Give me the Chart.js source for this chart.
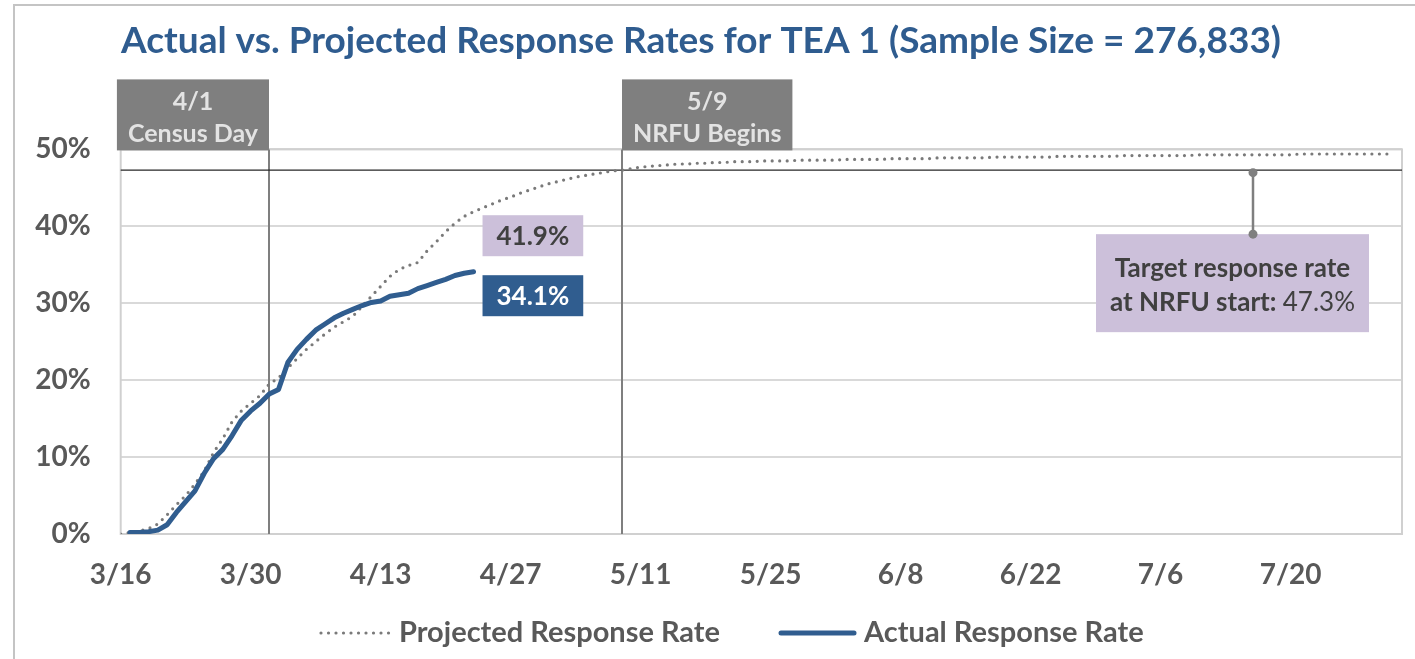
<!DOCTYPE html>
<html><head><meta charset="utf-8">
<script src="https://cdn.jsdelivr.net/npm/chart.js@4/dist/chart.umd.min.js"></script>
<style>
html,body{margin:0;padding:0;background:#fff;}
canvas{display:block;}
</style></head><body>
<canvas id="c" width="1415" height="659"></canvas>
<script>
// ---- data (day 0 = 3/16) ----
const tickLabels = ['3/16','3/30','4/13','4/27','5/11','5/25','6/8','6/22','7/6','7/20'];
const projected = [
 0.0, 0.2, 0.4, 0.7, 1.3, 2.5, 3.8, 5.0, 6.5, 8.2,
 10.6, 12.4, 14.6, 16.0, 17.0, 18.0, 19.5, 20.3, 21.6, 22.8,
 24.0, 25.0, 26.0, 26.9, 27.6, 28.3, 29.6, 30.9, 32.2, 33.5,
 34.4, 34.9, 35.3, 36.8, 38.0, 39.3, 40.4, 41.3, 41.9, 42.4,
 42.9, 43.4, 43.8, 44.3, 44.7, 45.1, 45.5, 45.8, 46.1, 46.4,
 46.6, 46.8, 47.0, 47.2, 47.3, 47.5, 47.7, 47.8, 47.9, 48.0,
 48.1, 48.1, 48.2, 48.2, 48.3, 48.3, 48.4, 48.4, 48.4, 48.5,
 48.5, 48.5, 48.5, 48.6, 48.6, 48.6, 48.6, 48.6, 48.7, 48.7,
 48.7, 48.7, 48.7, 48.8, 48.8, 48.8, 48.8, 48.8, 48.9, 48.9,
 48.9, 48.9, 48.9, 48.9, 49.0, 49.0, 49.0, 49.0, 49.0, 49.0,
 49.0, 49.1, 49.1, 49.1, 49.1, 49.1, 49.1, 49.1, 49.2, 49.2,
 49.2, 49.2, 49.2, 49.2, 49.2, 49.2, 49.3, 49.3, 49.3, 49.3,
 49.3, 49.3, 49.3, 49.3, 49.3, 49.3, 49.3, 49.4, 49.4, 49.4,
 49.4, 49.4, 49.4, 49.4, 49.4, 49.4, 49.4, 49.4
];
const actualStartDay = 1;
const actual = [
 0.2, 0.2, 0.3, 0.5, 1.2, 2.8, 4.2, 5.6, 7.9, 9.8,
 11.0, 12.8, 14.8, 16.0, 17.0, 18.2, 18.8, 22.3, 24.0, 25.3,
 26.5, 27.3, 28.1, 28.7, 29.2, 29.7, 30.1, 30.3, 30.9, 31.1,
 31.3, 31.9, 32.3, 32.7, 33.1, 33.6, 33.9, 34.1
];
const targetRate = 47.3;
const eventDays = [16, 54];
const eventLabels = [['4/1','Census Day'], ['5/9','NRFU Begins']];
const calloutDay = 122;
const seriesNames = ['Projected Response Rate', 'Actual Response Rate'];
const titleText = 'Actual vs. Projected Response Rates for TEA 1 (Sample Size = 276,833)';

const FONT = 'Lato, "Open Sans", sans-serif';
const BLUE = '#305D8F', GRAY = '#7F7F7F', PURPLE = '#CCC0DA', AXIS = '#595959', DARK = '#404040';

const overlay = {
  id: 'overlay',
  beforeDatasetsDraw(chart) {
    const {ctx, chartArea: a, scales: {x, y}} = chart;
    ctx.save();
    ctx.strokeStyle = '#D0D0D0'; ctx.lineWidth = 2;
    ctx.strokeRect(a.left, a.top, a.right - a.left, a.bottom - a.top);
    ctx.strokeStyle = GRAY; ctx.lineWidth = 2;
    eventDays.forEach(d => {
      const px = Math.round(x.getPixelForValue(d));
      ctx.beginPath(); ctx.moveTo(px, a.top); ctx.lineTo(px, a.bottom); ctx.stroke();
    });
    const ty = y.getPixelForValue(targetRate);
    ctx.strokeStyle = '#262626'; ctx.lineWidth = 1.3;
    ctx.beginPath(); ctx.moveTo(a.left, ty); ctx.lineTo(a.right, ty); ctx.stroke();
    ctx.restore();
  },
  afterDatasetsDraw(chart) {
    const {ctx, chartArea: a, scales: {x, y}} = chart;
    ctx.save();
    ctx.textBaseline = 'middle'; ctx.textAlign = 'center';
    ctx.font = 'bold 25px ' + FONT;
    eventDays.forEach((d, i) => {
      const px = Math.round(x.getPixelForValue(d));
      const w = Math.max(...eventLabels[i].map(t => ctx.measureText(t).width)) + 22;
      const left = i === 0 ? px - w : px;
      const top = a.top - 70;
      ctx.fillStyle = GRAY;
      ctx.fillRect(left, top, w, 71);
      ctx.fillStyle = '#E3E3E3';
      ctx.fillText(eventLabels[i][0], left + w / 2, top + 23);
      ctx.fillText(eventLabels[i][1], left + w / 2, top + 55);
    });
    const lastDay = actualStartDay + actual.length - 1;
    const lx = x.getPixelForValue(lastDay);
    const items = [
      {v: projected[lastDay], fill: PURPLE, color: DARK},
      {v: actual[actual.length - 1], fill: BLUE, color: '#FFFFFF'}
    ];
    ctx.font = 'bold 26px ' + FONT;
    items.forEach(it => {
      const py = y.getPixelForValue(it.v);
      const txt = it.v.toFixed(1) + '%';
      const w = ctx.measureText(txt).width + 28;
      const h = 41, left = lx + 9, cy = py + 24;
      ctx.fillStyle = it.fill; ctx.fillRect(left, cy - h / 2, w, h);
      ctx.fillStyle = it.color; ctx.fillText(txt, left + w / 2, cy + 1);
    });
    const cx = Math.round(x.getPixelForValue(calloutDay));
    const ty = y.getPixelForValue(targetRate);
    const y1 = ty + 2.5, y2 = ty + 64;
    const l1 = 'Target response rate', l2a = 'at NRFU start: ', l2b = targetRate.toFixed(1) + '%';
    ctx.font = 'bold 26px ' + FONT;
    const w1 = ctx.measureText(l1).width, w2a = ctx.measureText(l2a).width;
    ctx.font = '26px ' + FONT;
    const w2b = ctx.measureText(l2b).width;
    const bw = Math.max(w1, w2a + w2b) + 28, bh = 98;
    const bl = cx - 157;
    ctx.fillStyle = PURPLE; ctx.fillRect(bl, y2, bw, bh);
    ctx.strokeStyle = GRAY; ctx.lineWidth = 2.5;
    ctx.beginPath(); ctx.moveTo(cx, y1); ctx.lineTo(cx, y2); ctx.stroke();
    ctx.fillStyle = GRAY;
    [y1, y2].forEach(yy => { ctx.beginPath(); ctx.arc(cx, yy, 4.5, 0, Math.PI * 2); ctx.fill(); });
    ctx.fillStyle = DARK;
    ctx.font = 'bold 26px ' + FONT;
    ctx.fillText(l1, bl + bw / 2, y2 + 34);
    ctx.textAlign = 'left';
    const sx = bl + bw / 2 - (w2a + w2b) / 2;
    ctx.fillText(l2a, sx, y2 + 68);
    ctx.font = '26px ' + FONT;
    ctx.fillText(l2b, sx + w2a, y2 + 68);
    ctx.restore();
  },
  afterDraw(chart) {
    const {ctx} = chart;
    const ds = chart.data.datasets;
    ctx.save();
    const ly = 633;
    ctx.font = 'bold 29px ' + FONT;
    ctx.textBaseline = 'middle'; ctx.textAlign = 'left';
    let xx = 319;
    ds.forEach((d, i) => {
      const sw = i === 0 ? 70 : 75;
      ctx.strokeStyle = d.borderColor; ctx.lineWidth = d.borderWidth;
      ctx.lineCap = 'round';
      ctx.setLineDash(d.borderDash || []);
      ctx.beginPath(); ctx.moveTo(xx + 2, ly); ctx.lineTo(xx + sw, ly); ctx.stroke();
      ctx.setLineDash([]);
      xx += sw + 10;
      ctx.fillStyle = AXIS;
      ctx.fillText(d.label, xx, ly);
      xx += ctx.measureText(d.label).width + 59;
    });
    ctx.strokeStyle = '#C4C4C4'; ctx.lineWidth = 2;
    ctx.beginPath(); ctx.moveTo(14, 659); ctx.lineTo(14, 5); ctx.lineTo(1415, 5); ctx.stroke();
    ctx.restore();
  }
};

new Chart(document.getElementById('c'), {
  type: 'line',
  data: {
    datasets: [
      {label: seriesNames[0], data: projected.map((v, i) => ({x: i, y: v})),
       borderColor: '#7A7A7A', borderWidth: 3.2, borderDash: [0, 7.5], borderCapStyle: 'round',
       pointRadius: 0, tension: 0, order: 2},
      {label: seriesNames[1], data: actual.map((v, i) => ({x: i + actualStartDay, y: v})),
       borderColor: BLUE, borderWidth: 5, borderCapStyle: 'round', borderJoinStyle: 'round',
       pointRadius: 0, tension: 0, order: 1}
    ]
  },
  options: {
    responsive: false, animation: false,
    layout: {padding: {left: 0, right: 13, top: 0, bottom: 65}},
    scales: {
      x: {type: 'linear', min: 0, max: 138,
          afterBuildTicks: s => { s.ticks = tickLabels.map((_, i) => ({value: i * 14})); },
          ticks: {callback: v => tickLabels[Math.round(v / 14)], font: {family: FONT, weight: 'bold', size: 28},
                  color: AXIS, padding: 24, maxRotation: 0, autoSkip: false},
          grid: {display: false, drawTicks: false}, border: {display: false},
          afterFit: s => { s.height = 60; }},
      y: {min: 0, max: 50,
          ticks: {stepSize: 10, callback: v => v + '%', font: {family: FONT, weight: 'bold', size: 28},
                  color: AXIS, padding: 30},
          grid: {color: '#D9D9D9', lineWidth: 2, drawTicks: false}, border: {display: false},
          afterFit: s => { s.width = 120.7; }}
    },
    plugins: {
      legend: {display: false},
      tooltip: {enabled: false},
      title: {display: true, text: titleText, color: '#2F5C8F',
              font: {family: FONT, weight: 'bold', size: 37}, padding: {top: 19, bottom: 86}}
    }
  },
  plugins: [overlay]
});
</script>
</body></html>
